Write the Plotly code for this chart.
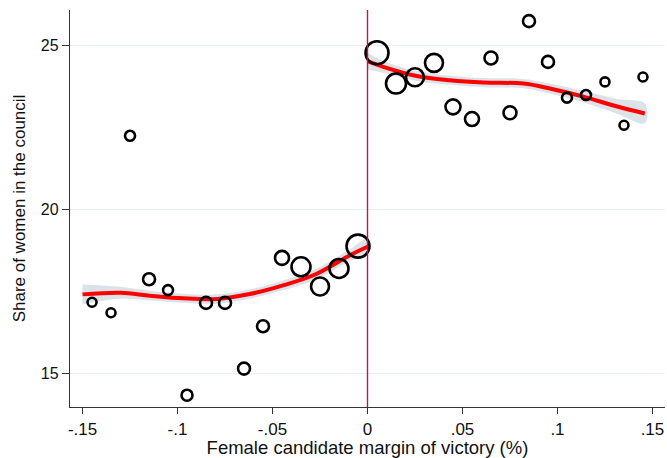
import plotly.graph_objects as go

# Binned means
bins_left = [-0.145, -0.135, -0.125, -0.115, -0.105, -0.095, -0.085, -0.075,
             -0.065, -0.055, -0.045, -0.035, -0.025, -0.015, -0.005]
share_left = [17.17, 16.85, 22.24, 17.87, 17.54, 14.34, 17.15, 17.15,
              15.15, 16.44, 18.52, 18.25, 17.65, 18.20, 18.88]
size_left = [9, 9, 10, 12, 10, 11, 12, 12, 12, 12, 14, 19, 18, 19, 23]

bins_right = [0.005, 0.015, 0.025, 0.035, 0.045, 0.055, 0.065, 0.075,
              0.085, 0.095, 0.105, 0.115, 0.125, 0.135, 0.145]
share_right = [24.77, 23.83, 24.02, 24.46, 23.12, 22.75, 24.61, 22.94,
               25.73, 24.49, 23.40, 23.48, 23.88, 22.56, 24.03]
size_right = [23, 20, 18, 18, 15, 14, 13, 13, 12, 12, 10, 10, 9, 9, 9]

# Local polynomial fit with confidence band
fit_x_left = [-0.150, -0.130, -0.1145, -0.097, -0.079, -0.062, -0.044, -0.027, -0.009, 0.0]
fit_y_left = [17.41, 17.46, 17.37, 17.29, 17.27, 17.42, 17.69, 18.03, 18.61, 18.86]
ci_half_left = [0.30, 0.18, 0.15, 0.14, 0.14, 0.14, 0.15, 0.16, 0.18, 0.25]

fit_x_right = [0.0, 0.0083, 0.0259, 0.0434, 0.061, 0.082, 0.096, 0.1136, 0.131, 0.146]
fit_y_right = [24.51, 24.34, 24.06, 23.93, 23.86, 23.83, 23.68, 23.43, 23.14, 22.92]
ci_half_right = [0.25, 0.18, 0.15, 0.14, 0.14, 0.14, 0.15, 0.17, 0.22, 0.30]

x_ticks = [-0.15, -0.1, -0.05, 0, 0.05, 0.1, 0.15]
x_tick_text = ["-.15", "-.1", "-.05", "0", ".05", ".1", ".15"]
y_ticks = [15, 20, 25]

band_color = "rgba(215,223,229,0.9)"
fig = go.Figure()

for fx, fy, ch in [(fit_x_left, fit_y_left, ci_half_left),
                   (fit_x_right, fit_y_right, ci_half_right)]:
    upper = [y + c for y, c in zip(fy, ch)]
    lower = [y - c for y, c in zip(fy, ch)]
    fig.add_trace(go.Scatter(x=fx + fx[::-1], y=upper + lower[::-1], fill="toself",
                             fillcolor=band_color, line=dict(width=0, shape="spline"),
                             mode="lines", hoverinfo="skip", showlegend=False))
    fig.add_trace(go.Scatter(x=fx, y=fy, mode="lines",
                             line=dict(color="#ff0000", width=4, shape="spline"),
                             showlegend=False))

for bx, by, bs in [(bins_left, share_left, size_left),
                   (bins_right, share_right, size_right)]:
    fig.add_trace(go.Scatter(x=bx, y=by, mode="markers",
                             marker=dict(size=bs, symbol="circle-open", color="#000000",
                                         opacity=1,
                                         line=dict(color="#000000", width=2.6)),
                             showlegend=False))

fig.add_shape(type="line", x0=0, x1=0, y0=0, y1=1, yref="paper", xref="x",
              line=dict(color="#c8143c", width=1.4), layer="above")

fig.update_layout(
    width=667, height=458,
    margin=dict(l=70, r=2, t=10, b=51),
    plot_bgcolor="white", paper_bgcolor="white",
    font=dict(family="Liberation Sans, Arial, sans-serif", size=16, color="#111"),
    xaxis=dict(range=[-0.1566, 0.1566], tickvals=x_ticks, ticktext=x_tick_text,
               showgrid=False, zeroline=False, showline=True, linecolor="#333",
               linewidth=1.3, ticks="outside", ticklen=6, tickcolor="#333",
               automargin=False, tickfont=dict(size=17),
               title=dict(text="Female candidate margin of victory (%)", standoff=0,
                          font=dict(size=18.5))),
    yaxis=dict(range=[13.98, 26.07], tickvals=y_ticks, showgrid=True,
               gridcolor="#e8f0f2", gridwidth=1.3, zeroline=False, showline=True,
               linecolor="#333", linewidth=1.3, ticks="outside", ticklen=7,
               tickcolor="#333", automargin=False, tickfont=dict(size=16),
               title=dict(text="Share of women in the council", standoff=10,
                          font=dict(size=17))),
)

fig.write_html("out.html", config={"displayModeBar": False})

with open("out.html", "r", encoding="utf-8") as f:
    html = f.read()
html = html.replace("<body>", '<body style="margin:0;padding:0;overflow:hidden">', 1)
with open("out.html", "w", encoding="utf-8") as f:
    f.write(html)
